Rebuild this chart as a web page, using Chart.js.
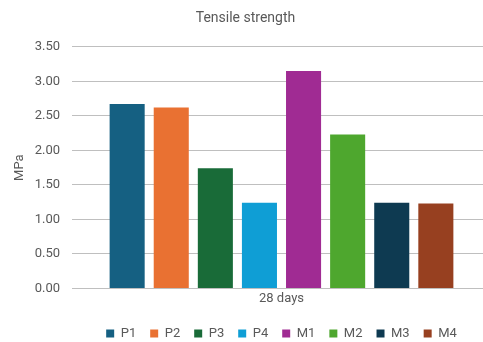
<!DOCTYPE html>
<html>
<head>
<meta charset="utf-8">
<script src="https://cdn.jsdelivr.net/npm/chart.js@4/dist/chart.umd.min.js"></script>
<style>
  html, body { margin: 0; padding: 0; background: #fff; overflow: hidden; }
  #wrap { width: 483px; height: 342px; overflow: hidden; }
</style>
</head>
<body>
<div id="wrap"><canvas id="c" width="491" height="342"></canvas></div>
<script>
// Tensile strength at 28 days per mix
const categories = ['28 days'];
const mixes = ['P1', 'P2', 'P3', 'P4', 'M1', 'M2', 'M3', 'M4'];
const strengthMPa = [2.67, 2.62, 1.74, 1.24, 3.15, 2.23, 1.24, 1.23];
const mixColours = ['#156082', '#E97132', '#196B38', '#0F9ED5', '#A02B93', '#4EA72E', '#0E3A51', '#974020'];
const yTicks = [0, 0.5, 1, 1.5, 2, 2.5, 3, 3.5];

const font = "Roboto, 'Liberation Sans', sans-serif";
const textGrey = '#595959';

const datasets = mixes.map((name, i) => ({
  label: name,
  data: [strengthMPa[i]],
  backgroundColor: mixColours[i],
  borderWidth: 0,
  categoryPercentage: 0.842,
  barPercentage: 0.795
}));

// centre the legend under the plot area rather than the whole canvas,
// and nudge it a little closer to the bottom edge
const legendUnderPlot = {
  id: 'legendUnderPlot',
  afterLayout(chart) {
    const lg = chart.legend, area = chart.chartArea;
    if (!lg) return;
    lg.left = area.left;
    lg.right = area.right;
    lg.width = area.right - area.left;
    lg.top += 3;
    lg.bottom += 3;
  }
};

new Chart(document.getElementById('c'), {
  type: 'bar',
  data: { labels: categories, datasets },
  plugins: [legendUnderPlot],
  options: {
    responsive: false,
    animation: false,
    devicePixelRatio: 1,
    layout: { padding: { left: 0, right: 0, top: 7, bottom: -5 } },
    plugins: {
      title: {
        display: true,
        text: 'Tensile strength',
        color: textGrey,
        font: { family: font, size: 14, weight: 'normal' },
        padding: { top: 3, bottom: 20 }
      },
      legend: {
        position: 'bottom',
        labels: {
          color: textGrey,
          font: { family: font, size: 13 },
          boxWidth: 8,
          boxHeight: 8,
          padding: 14
        }
      },
      tooltip: { enabled: false }
    },
    scales: {
      x: {
        grid: { display: false, drawTicks: false },
        border: { display: false },
        ticks: { color: textGrey, font: { family: font, size: 13 }, padding: 3 }
      },
      y: {
        min: 0,
        max: 3.5,
        afterBuildTicks: (axis) => { axis.ticks = yTicks.map(v => ({ value: v })); },
        afterFit: (axis) => { axis.width = 72; },
        grid: { color: '#bfbfbf', lineWidth: 1, drawTicks: false },
        border: { display: false },
        ticks: {
          color: textGrey,
          font: { family: font, size: 13 },
          padding: 12,
          callback: (v) => Number(v).toFixed(2)
        },
        title: {
          display: true,
          text: 'MPa',
          color: textGrey,
          font: { family: font, size: 13 },
          padding: { top: 12, bottom: 0 }
        }
      }
    }
  }
});
</script>
</body>
</html>
